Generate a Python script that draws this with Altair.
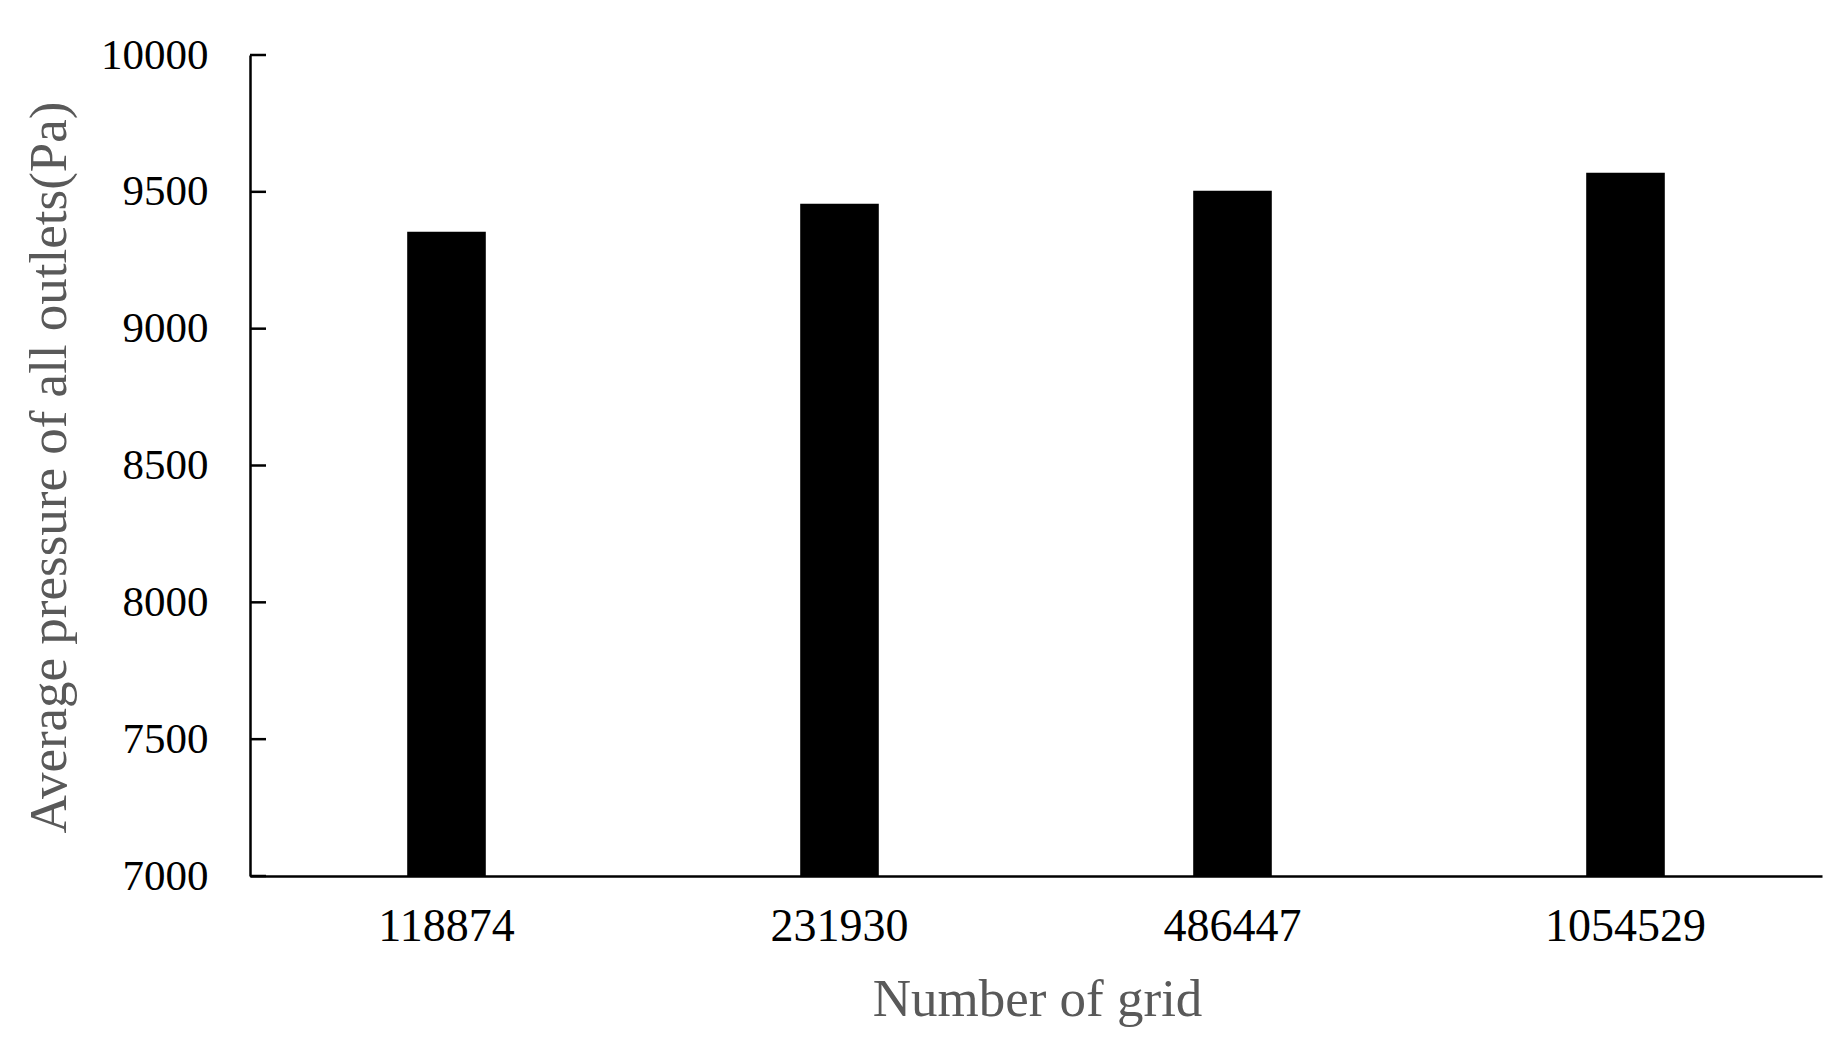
import altair as alt
import pandas as pd

grids = ["118874", "231930", "486447", "1054529"]
pressures = [9354, 9456, 9504, 9570]
y_ticks = [7000, 7500, 8000, 8500, 9000, 9500, 10000]

df = pd.DataFrame({"grid": grids, "pressure": pressures})
ticks_df = pd.DataFrame({"v": y_ticks})

FONT = "Liberation Serif"
W, H = 1572, 821

yscale = alt.Scale(domain=[7000, 10000], zero=False, nice=False)

bars = alt.Chart(df).mark_bar(color="black").encode(
    x=alt.X("grid:N", sort=grids,
            scale=alt.Scale(paddingInner=0.8, paddingOuter=0.4),
            axis=alt.Axis(title="Number of grid", labelAngle=0, ticks=False, tickSize=0,
                          labelFont=FONT, labelFontSize=46, labelColor="black",
                          labelBaseline="alphabetic", labelPadding=64,
                          titleFont=FONT, titleFontSize=53, titleFontWeight="normal",
                          titleColor="#595959", titleX=787, titleY=139,
                          titleBaseline="alphabetic", titleAlign="center",
                          domainColor="black", domainWidth=2.5)),
    y=alt.Y("pressure:Q", scale=yscale,
            axis=alt.Axis(title="Average pressure of all outlets(Pa)", values=y_ticks,
                          format="d", grid=False, ticks=False, tickSize=0,
                          labelFont=FONT, labelFontSize=43, labelColor="black",
                          labelPadding=42, labelBaseline="middle",
                          titleFont=FONT, titleFontSize=53, titleFontWeight="normal",
                          titleColor="#595959", titleAngle=-90, titleX=-201, titleY=412,
                          titleAlign="center", titleBaseline="middle",
                          domainColor="black", domainWidth=2.5)),
    y2=alt.datum(7000),
)

tick_marks = alt.Chart(ticks_df).mark_rule(color="black", strokeWidth=2.5).encode(
    y=alt.Y("v:Q", scale=yscale),
    x=alt.value(0),
    x2=alt.value(16),
)

chart = alt.layer(bars, tick_marks).properties(
    width=W, height=H,
    autosize=alt.AutoSizeParams(type="none"),
    padding={"left": 242, "top": 47, "right": 10, "bottom": 165},
).configure(background="white", view=alt.ViewConfig(stroke=None))

chart.save("out.html", embed_options={"renderer": "svg", "actions": False})
